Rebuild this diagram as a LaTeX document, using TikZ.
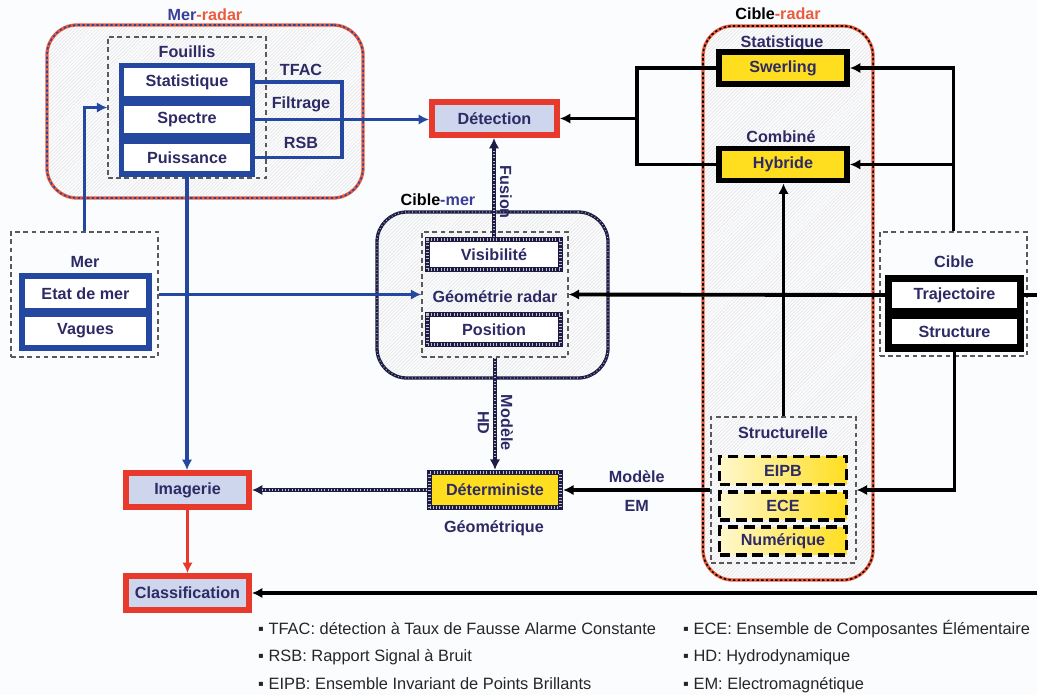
\documentclass[tikz,border=0pt]{standalone}
\usepackage{fontspec}
\setmainfont{Liberation Sans}
\usetikzlibrary{shapes,arrows.meta,patterns}

\definecolor{txtnavy}{RGB}{46,42,102}
\definecolor{titleblue}{RGB}{58,62,150}
\definecolor{lineblue}{RGB}{36,72,160}
\definecolor{boxred}{RGB}{232,58,44}
\definecolor{titlered}{RGB}{236,92,60}
\definecolor{lightlav}{RGB}{205,214,236}
\definecolor{gold}{RGB}{255,222,32}
\definecolor{paleyel}{RGB}{255,248,205}
\definecolor{hnavy}{RGB}{28,28,70}
\definecolor{bgcol}{RGB}{251,252,254}

\tikzstyle{zone}      = [rectangle, rounded corners=0.9cm, pattern=north east lines, pattern color=gray!22, inner sep=0pt]
\tikzstyle{redzone}   = [zone, draw=titlered, line width=2.8pt, postaction={draw=lineblue, line width=1.3pt, dash pattern=on 2pt off 2pt}]
\tikzstyle{cibzone}   = [zone, draw=titlered, line width=2.8pt, postaction={draw=black, line width=1.3pt, dash pattern=on 2pt off 2pt}]
\tikzstyle{navyzone}  = [zone, draw=hnavy, line width=2.8pt, postaction={draw=gray!45, line width=1pt, dash pattern=on 0.6pt off 2.4pt}]
\tikzstyle{dashbox}   = [rectangle, draw=black!65, line width=1.1pt, dash pattern=on 4pt off 3pt, inner sep=0pt]
\tikzstyle{blucell}   = [rectangle, draw=lineblue, fill=white, line width=4.5pt, minimum width=3.93cm, minimum height=0.99cm, inner sep=0pt]
\tikzstyle{blkcell}   = [rectangle, draw=black, fill=white, line width=6pt, minimum width=3.96cm, minimum height=0.99cm, inner sep=0pt]
\tikzstyle{yelbox}    = [rectangle, draw=black, fill=gold, line width=5pt, minimum width=3.84cm, minimum height=0.96cm, inner sep=0pt]
\tikzstyle{redbox}    = [rectangle, draw=boxred, fill=lightlav, line width=5pt, minimum width=3.69cm, minimum height=1.02cm, inner sep=0pt]
\tikzstyle{hatchbox}  = [rectangle, draw=hnavy, fill=white, line width=4.5pt, minimum width=3.99cm, minimum height=0.9cm, inner sep=0pt,
                         postaction={draw=gray!50, line width=2.4pt, dash pattern=on 0.7pt off 2.1pt}]
\tikzstyle{mdashcell} = [rectangle, draw=black, line width=3pt, dash pattern=on 9pt off 5pt, left color=paleyel, right color=gold,
                         minimum width=3.8cm, minimum height=0.83cm, inner sep=0pt]
\tikzstyle{flowb} = [draw=lineblue, line width=3pt]
\tikzstyle{flowk} = [draw=black, line width=3.3pt]
\tikzstyle{flowr} = [draw=boxred, line width=2.8pt]
\tikzstyle{flowh} = [draw=hnavy, line width=3.6pt, postaction={draw=gray!50, line width=1.6pt, dash pattern=on 0.7pt off 2.1pt, arrows=-, shorten >=9pt}]
\tikzstyle{legend} = [anchor=base west, font=\fontsize{14}{16}\selectfont\mdseries, text=black!85, inner sep=0pt]

\begin{document}
\begin{tikzpicture}[x=0.03cm, y=-0.03cm, font=\fontsize{13.8}{16}\selectfont\bfseries, text=txtnavy,
                    >={Latex[length=9pt,width=9pt]}]
  \useasboundingbox[fill=bgcol] (0,0) rectangle (1037,695);

  % zones
  \node[redzone, minimum width=9.48cm, minimum height=5.19cm] (merradar) at (205,111.5) {};
  \node[cibzone, minimum width=5.1cm, minimum height=16.62cm] (cibleradar) at (788,303) {};
  \node[navyzone, minimum width=6.93cm, minimum height=4.98cm] (ciblemer) at (492.5,295) {};
  \node (tmerradar) at (205,15) {\textcolor{titleblue}{Mer}\textcolor{titlered}{-radar}};
  \node (tcibleradar) at (778,14) {\textcolor{black}{Cible}\textcolor{titlered}{-radar}};
  \node (tciblemer) at (438,200) {\textcolor{black}{Cible}\textcolor{titleblue}{-mer}};

  % dashed groups
  \node[dashbox, minimum width=4.74cm, minimum height=4.23cm] (fouillis) at (187,107.5) {};
  \node[dashbox, minimum width=4.41cm, minimum height=3.75cm] (merbox) at (84.5,294.5) {};
  \node[dashbox, minimum width=4.38cm, minimum height=3.75cm] (geobox) at (495,294.5) {};
  \node[dashbox, minimum width=4.41cm, minimum height=3.72cm] (cibleb) at (953.5,294) {};
  \node[dashbox, minimum width=4.35cm, minimum height=4.38cm] (structurelle) at (783.5,490) {};

  \node (lfouillis) at (187,52) {Fouillis};
  \node (lmer) at (85,262) {Mer};
  \node (lcible) at (954,262) {Cible};
  \node (lgeo) at (495,297) {Géométrie radar};
  \node (lstatis) at (782,43) {Statistique};
  \node (lcombine) at (781,137) {Combiné};
  \node (lstructu) at (783,433) {Structurelle};
  \node (lgeometr) at (494,528) {Géométrique};
  \node (ltfac) at (301,70) {TFAC};
  \node (lfiltr) at (301,104) {Filtrage};
  \node (lrsb) at (301,143) {RSB};

  % boxes
  \node[blucell] (fstat) at (187,82) {Statistique};
  \node[blucell] (fspec) at (187,119.5) {Spectre};
  \node[blucell] (fpuis) at (187,157.5) {Puissance};
  \node[blucell, minimum width=3.81cm, minimum height=1.03cm, line width=5.1pt] (etat) at (85.5,293.5) {Etat de mer};
  \node[blucell, minimum width=3.81cm, minimum height=1.03cm, line width=5.1pt] (vagues) at (85.5,331) {Vagues};
  \node[blkcell] (traj) at (954.5,295) {Trajectoire};
  \node[blkcell] (struct) at (954.5,331.5) {Structure};
  \node[yelbox] (swerling) at (783,68) {Swerling};
  \node[yelbox] (hybride) at (783,164.5) {Hybride};
  \node[redbox, minimum width=3.75cm, minimum height=0.99cm] (detection) at (494.5,118.5) {Détection};
  \node[redbox] (imagerie) at (187.5,490) {Imagerie};
  \node[redbox] (classif) at (187.5,593) {Classification};
  \node[hatchbox, fill=gold, minimum width=3.93cm, minimum height=1.05cm] (determ) at (495,490) {Déterministe};
  \node[hatchbox] (visib) at (494,254.5) {Visibilité};
  \node[hatchbox] (position) at (494,329.5) {Position};
  \node[mdashcell] (eipb) at (783,470.5) {EIPB};
  \node[mdashcell] (ece) at (783,506) {ECE};
  \node[mdashcell] (numer) at (783,541) {Numérique};

  \coordinate (brk) at (637,118.5);
  \coordinate (brx) at (342,119.5);
  \coordinate (trajout) at (1037,295);
  \coordinate (clsin) at (1037,593);

  % links
  \path [flowb, ->] (merbox.north) |- (fouillis.west);
  \path [flowb] (fstat.east) -| (brx) |- (fpuis.east);
  \path [flowb, ->] (fspec.east) -- (fspec.east -| detection.west);
  \path [flowb, ->] (merbox.east) -- (geobox.west);
  \path [flowb, ->] (fpuis.south) -- (fpuis.south |- imagerie.north);
  \path [flowr, ->] (imagerie.south) -- (classif.north);
  \path [flowh, ->] (determ.west) -- (imagerie.east);
  \path [flowh, ->] (visib.north) -- node[pos=0.45, anchor=south, rotate=-90] {Fusion} (visib.north |- detection.south);
  \path [flowh, ->] (geobox.south) -- node[pos=0.58, anchor=south, rotate=-90] {Modèle}
                                      node[pos=0.58, anchor=north, rotate=-90] {HD} (determ.north);
  \path [flowk] (swerling.west) -| (brk) |- (hybride.west);
  \path [flowk, ->] (brk) -- (detection.east);
  \path [flowk, ->] (cibleb.north) |- (swerling.east);
  \path [flowk, ->] (cibleb.north) |- (hybride.east);
  \path [flowk, ->] (traj.west) -- (geobox.east);
  \path [flowk] (traj.east) -- (trajout);
  \path [flowk, ->] (struct.south) |- (structurelle.east);
  \path [flowk, ->] (structurelle.north) -- (hybride.south -| structurelle.north);
  \path [flowk, ->] (structurelle.west) -- node[above=1pt] {Modèle} node[below=4pt] {EM} (determ.east);
  \path [flowk, ->] (clsin) -- (classif.east);

  % legend
  \node[legend] (leg1) at (258,634) {▪ TFAC: détection à Taux de Fausse Alarme Constante};
  \node[legend] (leg2) at (258,661) {▪ RSB: Rapport Signal à Bruit};
  \node[legend] (leg3) at (258,689) {▪ EIPB: Ensemble Invariant de Points Brillants};
  \node[legend] (leg4) at (683,634) {▪ ECE: Ensemble de Composantes Élémentaire};
  \node[legend] (leg5) at (683,661) {▪ HD: Hydrodynamique};
  \node[legend] (leg6) at (683,689) {▪ EM: Electromagnétique};
\end{tikzpicture}
\end{document}
